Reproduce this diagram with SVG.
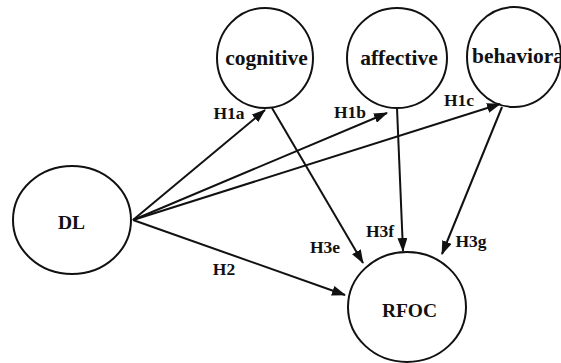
<svg xmlns="http://www.w3.org/2000/svg" width="561" height="363" viewBox="0 0 561 363">
  <style>
    .node { fill: none; stroke: #111; stroke-width: 2; }
    .nlabel { font-family: "Liberation Serif", "Times New Roman", serif; font-weight: bold; font-size: 21.5px; fill: #111; text-anchor: middle; }
    .small { font-size: 19.5px; }
    .elabel { font-family: "Liberation Serif", "Times New Roman", serif; font-weight: bold; font-size: 17.5px; fill: #111; text-anchor: middle; }
    .edge { stroke: #111; stroke-width: 2; fill: none; marker-end: url(#arrow); }
  </style>
  <defs>
    <marker id="arrow" viewBox="0 0 14 10" refX="13" refY="5" markerWidth="14" markerHeight="10" markerUnits="userSpaceOnUse" orient="auto">
      <path d="M0,0 L14,5 L0,10 z" fill="#111"/>
    </marker>
  </defs>
  <rect width="561" height="363" fill="#ffffff"/>

  <g id="connectors">
    <line class="edge" x1="133" y1="220" x2="265" y2="110"/>
    <line class="edge" x1="133" y1="220" x2="387" y2="113"/>
    <line class="edge" x1="133" y1="220" x2="500" y2="104"/>
    <line class="edge" x1="133" y1="220" x2="345" y2="295"/>
    <line class="edge" x1="272" y1="108" x2="363" y2="263"/>
    <line class="edge" x1="397" y1="108" x2="403" y2="251"/>
    <line class="edge" x1="502" y1="107" x2="442" y2="254"/>
    <text class="elabel" x="229" y="119">H1a</text>
    <text class="elabel" x="350" y="118">H1b</text>
    <text class="elabel" x="459" y="106">H1c</text>
    <text class="elabel" x="224" y="275">H2</text>
    <text class="elabel" x="325" y="253">H3e</text>
    <text class="elabel" x="380" y="237">H3f</text>
    <text class="elabel" x="471" y="247">H3g</text>
  </g>

  <g id="node-cognitive">
    <ellipse class="node" cx="265" cy="58" rx="48" ry="50"/>
    <text class="nlabel" x="266.5" y="65">cognitive</text>
  </g>
  <g id="node-affective">
    <ellipse class="node" cx="397" cy="58" rx="50" ry="50"/>
    <text class="nlabel" x="399" y="65">affective</text>
  </g>
  <g id="node-behavioral">
    <ellipse class="node" cx="514" cy="57" rx="47" ry="50"/>
    <text class="nlabel" x="472" y="63" style="text-anchor:start">behavioral</text>
  </g>
  <g id="node-DL">
    <ellipse class="node" cx="72" cy="220" rx="59" ry="54"/>
    <text class="nlabel small" x="71.5" y="229">DL</text>
  </g>
  <g id="node-RFOC">
    <ellipse class="node" cx="407" cy="307" rx="59" ry="55"/>
    <text class="nlabel small" x="409.5" y="317">RFOC</text>
  </g>
</svg>
